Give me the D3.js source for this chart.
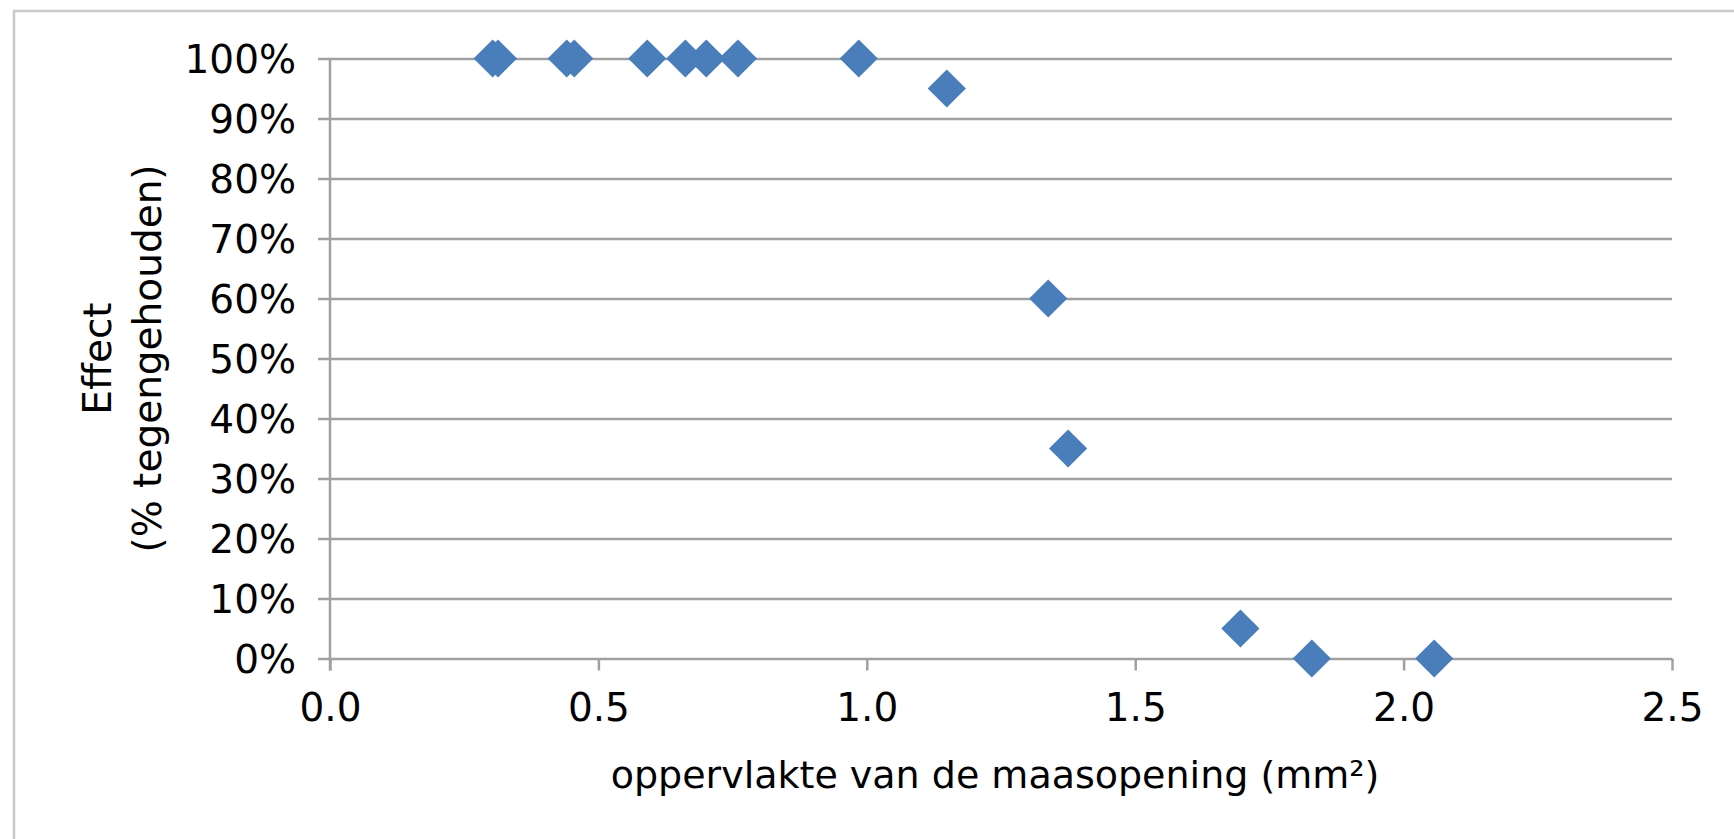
<!DOCTYPE html>
<html>
<head>
<meta charset="utf-8">
<script src="https://cdn.jsdelivr.net/npm/d3@7/dist/d3.min.js"></script>
<style>
  html, body { margin: 0; padding: 0; background: #fff; }
  svg { display: block; }
  text { font-family: "DejaVu Sans", Verdana, sans-serif; fill: #000; }
</style>
</head>
<body>
<svg id="chart" width="1734" height="839"></svg>
<script>
// Data: mesh opening area (mm²) vs effect (% retained)
const areaMm2 = [0.303, 0.313, 0.441, 0.455, 0.591, 0.662, 0.701, 0.760, 0.985, 1.149, 1.338, 1.375, 1.696, 1.829, 2.057];
const effectPct = [1.00, 1.00, 1.00, 1.00, 1.00, 1.00, 1.00, 1.00, 1.00, 0.95, 0.60, 0.35, 0.05, 0.00, 0.00];
const xTicks = [0.0, 0.5, 1.0, 1.5, 2.0, 2.5];
const yTicks = [0, 0.1, 0.2, 0.3, 0.4, 0.5, 0.6, 0.7, 0.8, 0.9, 1.0];
const xTitle = "oppervlakte van de maasopening (mm²)";
const yTitleLines = ["Effect", "(% tegengehouden)"];

const svg = d3.select("#chart");
const W = 1734, H = 839;
const plot = { left: 330, right: 1672, top: 58.5, bottom: 658.5 };

const x = d3.scaleLinear().domain([0, 2.5]).range([plot.left, plot.right]);
const y = d3.scaleLinear().domain([0, 1]).range([plot.bottom, plot.top]);

// outer chart border
svg.append("rect")
  .attr("x", 14).attr("y", 11)
  .attr("width", W + 10).attr("height", H + 10)
  .attr("fill", "none").attr("stroke", "#c8c8c8").attr("stroke-width", 2.5);

const gridColor = "#a0a0a0";
const tickFont = "39px";

// Y axis with gridlines (ticks extend left of axis)
const yAxis = d3.axisLeft(y)
  .tickValues(yTicks)
  .tickSize(-(plot.right - plot.left))
  .tickPadding(0)
  .tickFormat(d3.format(".0%"));
const gy = svg.append("g").attr("transform", `translate(${plot.left},0)`).call(yAxis);
gy.select(".domain").remove();
gy.selectAll(".tick line").attr("stroke", gridColor).attr("stroke-width", 2.5)
  .attr("x1", -12);
gy.selectAll(".tick text")
  .attr("x", -34).attr("dy", "0.36em")
  .style("font-size", tickFont).style("font-family", "'DejaVu Sans', Verdana, sans-serif")
  .attr("fill", "#000");

// Y axis vertical line
svg.append("line")
  .attr("x1", plot.left).attr("x2", plot.left)
  .attr("y1", plot.top).attr("y2", plot.bottom + 12)
  .attr("stroke", gridColor).attr("stroke-width", 2.5);

// X axis ticks and labels
const xAxis = d3.axisBottom(x)
  .tickValues(xTicks)
  .tickSize(12)
  .tickPadding(0)
  .tickFormat(d3.format(".1f"));
const gx = svg.append("g").attr("transform", `translate(0,${plot.bottom})`).call(xAxis);
gx.select(".domain").remove();
gx.selectAll(".tick line").attr("stroke", gridColor).attr("stroke-width", 2.5);
gx.selectAll(".tick text")
  .attr("y", 62).attr("dy", 0)
  .style("font-size", tickFont).style("font-family", "'DejaVu Sans', Verdana, sans-serif")
  .attr("fill", "#000");

// Data points (diamonds)
const diamond = d3.symbol().type(d3.symbolSquare).size(27 * 27);
svg.append("g").selectAll("path")
  .data(areaMm2.map((a, i) => [a, effectPct[i]]))
  .join("path")
  .attr("d", diamond)
  .attr("transform", d => `translate(${x(d[0])},${y(d[1])}) rotate(45)`)
  .attr("fill", "#4A7EBB");

// X title
svg.append("text")
  .attr("x", (plot.left + plot.right) / 2 - 6)
  .attr("y", 788)
  .attr("text-anchor", "middle")
  .style("font-size", "38px")
  .text(xTitle);

// Y title (two lines, rotated)
const yt = svg.append("text")
  .attr("transform", `translate(97,${(plot.top + plot.bottom) / 2}) rotate(-90)`)
  .attr("text-anchor", "middle")
  .style("font-size", "39px");
yTitleLines.forEach((t, i) => {
  yt.append("tspan").attr("x", 0).attr("y", i * 50).attr("dy", "0.35em").text(t);
});
</script>
</body>
</html>
